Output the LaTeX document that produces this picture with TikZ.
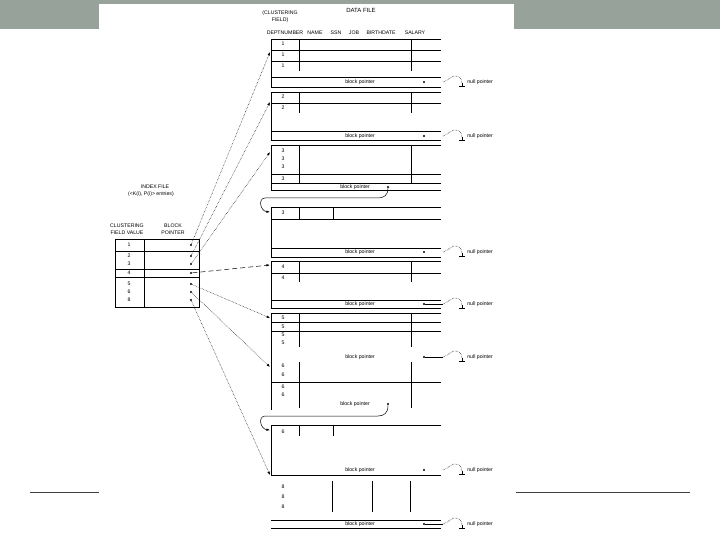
\documentclass[tikz,border=0pt]{standalone}
\usepackage{fontspec}
\setmainfont{Liberation Sans}
\usetikzlibrary{arrows.meta}

\definecolor{slidegray}{RGB}{151,163,154}

\tikzset{
  txt/.style={font=\fontsize{5.2}{7}\selectfont, inner sep=0pt},
  bigtxt/.style={font=\fontsize{6}{7}\selectfont, inner sep=0pt},
  ptr/.style={circle, fill, inner sep=0pt, minimum size=2.2pt},
  idxarrow/.style={densely dotted, line width=0.5pt, -{Latex[length=3.5pt,width=2.5pt]}},
  contarrow/.style={line width=0.5pt, -{Latex[length=3.5pt,width=2.5pt]}},
  nullwave/.style={densely dotted, line width=0.5pt},
}

\begin{document}
\begin{tikzpicture}[x=1pt, y=-1pt, line width=0.7pt]
    % --- 页面背景 ---
    \useasboundingbox (0,0) rectangle (720,540);
    \fill[slidegray] (0,0) rectangle (720,29);
    \fill[white] (99,4) rectangle (514,540);
    \draw[darkgray, line width=0.8pt] (30,492) -- (99,492);
    \draw[darkgray, line width=0.8pt] (516,492) -- (690,492);

    % --- 数据文件标题 ---
    \node[bigtxt] (dtitle) at (361,10) {DATA FILE};
    \node[txt, align=center] (cfield) at (280,17) {(CLUSTERING\\FIELD)};
    \foreach \x/\t in {285/DEPTNUMBER, 315/NAME, 336/SSN, 354/JOB, 381/BIRTHDATE, 415/SALARY}
        \node[txt] (h\t) at (\x,33) {\t};

    % --- 块 1 ---
    \draw (441,39) -- (271,39) -- (271,87) -- (441,87);
    \foreach \y in {50,61,77} \draw (271,\y) -- (441,\y);
    \draw (299,39) -- (299,71);
    \draw (411,39) -- (411,71);
    \foreach \y in {44,55,66} \node[txt] at (283,\y) {1};
    \node[txt] (bptxt1) at (360,82) {block pointer};
    \node[ptr] (bp1) at (424,82) {};

    % --- 块 2 ---
    \draw (441,92) -- (271,92) -- (271,140) -- (441,140);
    \foreach \y in {103,131} \draw (271,\y) -- (441,\y);
    \draw (299,92) -- (299,113);
    \draw (411,92) -- (411,113);
    \foreach \y in {97,108} \node[txt] at (283,\y) {2};
    \node[txt] (bptxt2) at (360,136) {block pointer};
    \node[ptr] (bp2) at (424,136) {};

    % --- 块 3 (有后续块) ---
    \draw (441,145) -- (271,145) -- (271,190) -- (441,190);
    \foreach \y in {174,183} \draw (271,\y) -- (441,\y);
    \draw (299,145) -- (299,183);
    \draw (411,145) -- (411,183);
    \foreach \y in {151,159,167,179} \node[txt] at (283,\y) {3};
    \node[txt] (bptxt3) at (355,187) {block pointer};
    \node[ptr] (bp3) at (388,187) {};
    \coordinate (c3a) at (378,198);
    \coordinate (c3b) at (265,198);

    % --- 块 4 ---
    \draw (441,207) -- (271,207) -- (271,257) -- (441,257);
    \foreach \y in {219,248} \draw (271,\y) -- (441,\y);
    \draw (299,207) -- (299,219);
    \draw (333,207) -- (333,219);
    \node[txt] at (283,213) {3};
    \node[txt] (bptxt4) at (360,252) {block pointer};
    \node[ptr] (bp4) at (424,252) {};
    \coordinate (t3b) at (270,212);

    % --- 块 5 ---
    \draw (441,261) -- (271,261) -- (271,308) -- (441,308);
    \foreach \y in {273,300} \draw (271,\y) -- (441,\y);
    \draw (299,261) -- (299,282);
    \draw (411,261) -- (411,282);
    \foreach \y in {267,278} \node[txt] at (283,\y) {4};
    \node[txt] (bptxt5) at (360,304) {block pointer};
    \node[ptr] (bp5) at (424,304) {};

    % --- 块 6 ---
    \draw (441,313) -- (271,313) -- (271,410);
    \foreach \y in {322,331,382} \draw (271,\y) -- (441,\y);
    \draw (299,313) -- (299,347) (299,362) -- (299,408);
    \draw (411,313) -- (411,347) (411,362) -- (411,408);
    \foreach \y in {318,327,335,343} \node[txt] at (283,\y) {5};
    \foreach \y in {366,375,387,395} \node[txt] at (283,\y) {6};
    \node[txt] (bptxt6) at (360,357) {block pointer};
    \node[ptr] (bp6) at (424,357) {};
    \node[txt] (bptxt6b) at (355,404) {block pointer};
    \node[ptr] (bp6b) at (388,404) {};
    \coordinate (c6a) at (378,416);
    \coordinate (c6b) at (265,416);

    % --- 块 7 ---
    \draw (441,425) -- (271,425) -- (271,475) -- (441,475);
    \draw (299,425) -- (299,436);
    \draw (333,425) -- (333,436);
    \node[txt] at (283,432) {6};
    \node[txt] (bptxt7) at (360,470) {block pointer};
    \node[ptr] (bp7) at (424,470) {};
    \coordinate (t6b) at (270,430);

    % --- 块 8 ---
    \foreach \y in {487,497,507} \node[txt] at (283,\y) {8};
    \foreach \x in {332,372,410} \draw (\x,481) -- (\x,512);
    \draw (271,520) -- (441,520);
    \draw (271,528) -- (441,528);
    \node[txt] (bptxt8) at (360,524) {block pointer};
    \node[ptr] (bp8) at (424,524) {};

    % --- 后续块指针 ---
    \draw[contarrow] (bp3) .. controls (388,195) and (384,198) .. (c3a) -- (c3b)
        .. controls (258,198) and (260,211) .. (t3b);
    \draw[contarrow] (bp6b) .. controls (388,413) and (384,416) .. (c6a) -- (c6b)
        .. controls (258,416) and (260,429) .. (t6b);

    % --- 空指针 ---
    \draw[line width=0.5pt] (bp5) -- (443,304);
    \draw[line width=0.5pt] (bp6) -- (443,357);
    \draw[line width=0.5pt] (bp8) -- (443,524);
    \foreach \y in {82,136,252,304,357,470,524} {
        \draw[nullwave] (443,\y) .. controls (449,\y-2) and (452,\y-7) .. (456,\y-6)
            .. controls (461,\y-5) and (462,\y-2) .. (462,\y+1);
        \draw[line width=0.5pt] (462,\y+1) -- (462,\y+4) (459,\y+4) -- (465,\y+4);
        \node[txt, anchor=west] (np\y) at (467,\y) {null pointer};
    }

    % --- 索引文件 ---
    \node[txt] (ititle) at (155,187) {INDEX FILE};
    \node[txt] (isub) at (151,194) {(<K(i), P(i)> entries)};
    \node[txt, align=center] (ikey) at (127,229) {CLUSTERING\\FIELD VALUE};
    \node[txt, align=center] (iptr) at (173,229) {BLOCK\\POINTER};
    \draw (115,239) rectangle (199,307);
    \draw (144,239) -- (144,307);
    \foreach \y in {251,269,277} \draw (115,\y) -- (199,\y);
    \foreach \v/\y in {1/245,2/256,3/264,4/273,5/284,6/292,8/300} {
        \node[txt] (iv\v) at (129,\y) {\v};
        \node[ptr] (ip\v) at (191,\y) {};
    }

    % --- 索引指针 ---
    \coordinate (t1) at (270,52);
    \coordinate (t2) at (270,102);
    \coordinate (t3) at (270,152);
    \coordinate (t4) at (270,265);
    \coordinate (t5) at (270,318);
    \coordinate (t6) at (270,367);
    \coordinate (t8) at (270,475);
    \draw[idxarrow] (ip1) -- (t1);
    \draw[idxarrow] (ip2) -- (t2);
    \draw[idxarrow] (ip3) -- (t3);
    \draw[idxarrow, dash pattern=on 5pt off 3pt] (ip4) -- (t4);
    \draw[idxarrow] (ip5) -- (t5);
    \draw[idxarrow] (ip6) -- (t6);
    \draw[idxarrow] (ip8) -- (t8);
\end{tikzpicture}
\end{document}
